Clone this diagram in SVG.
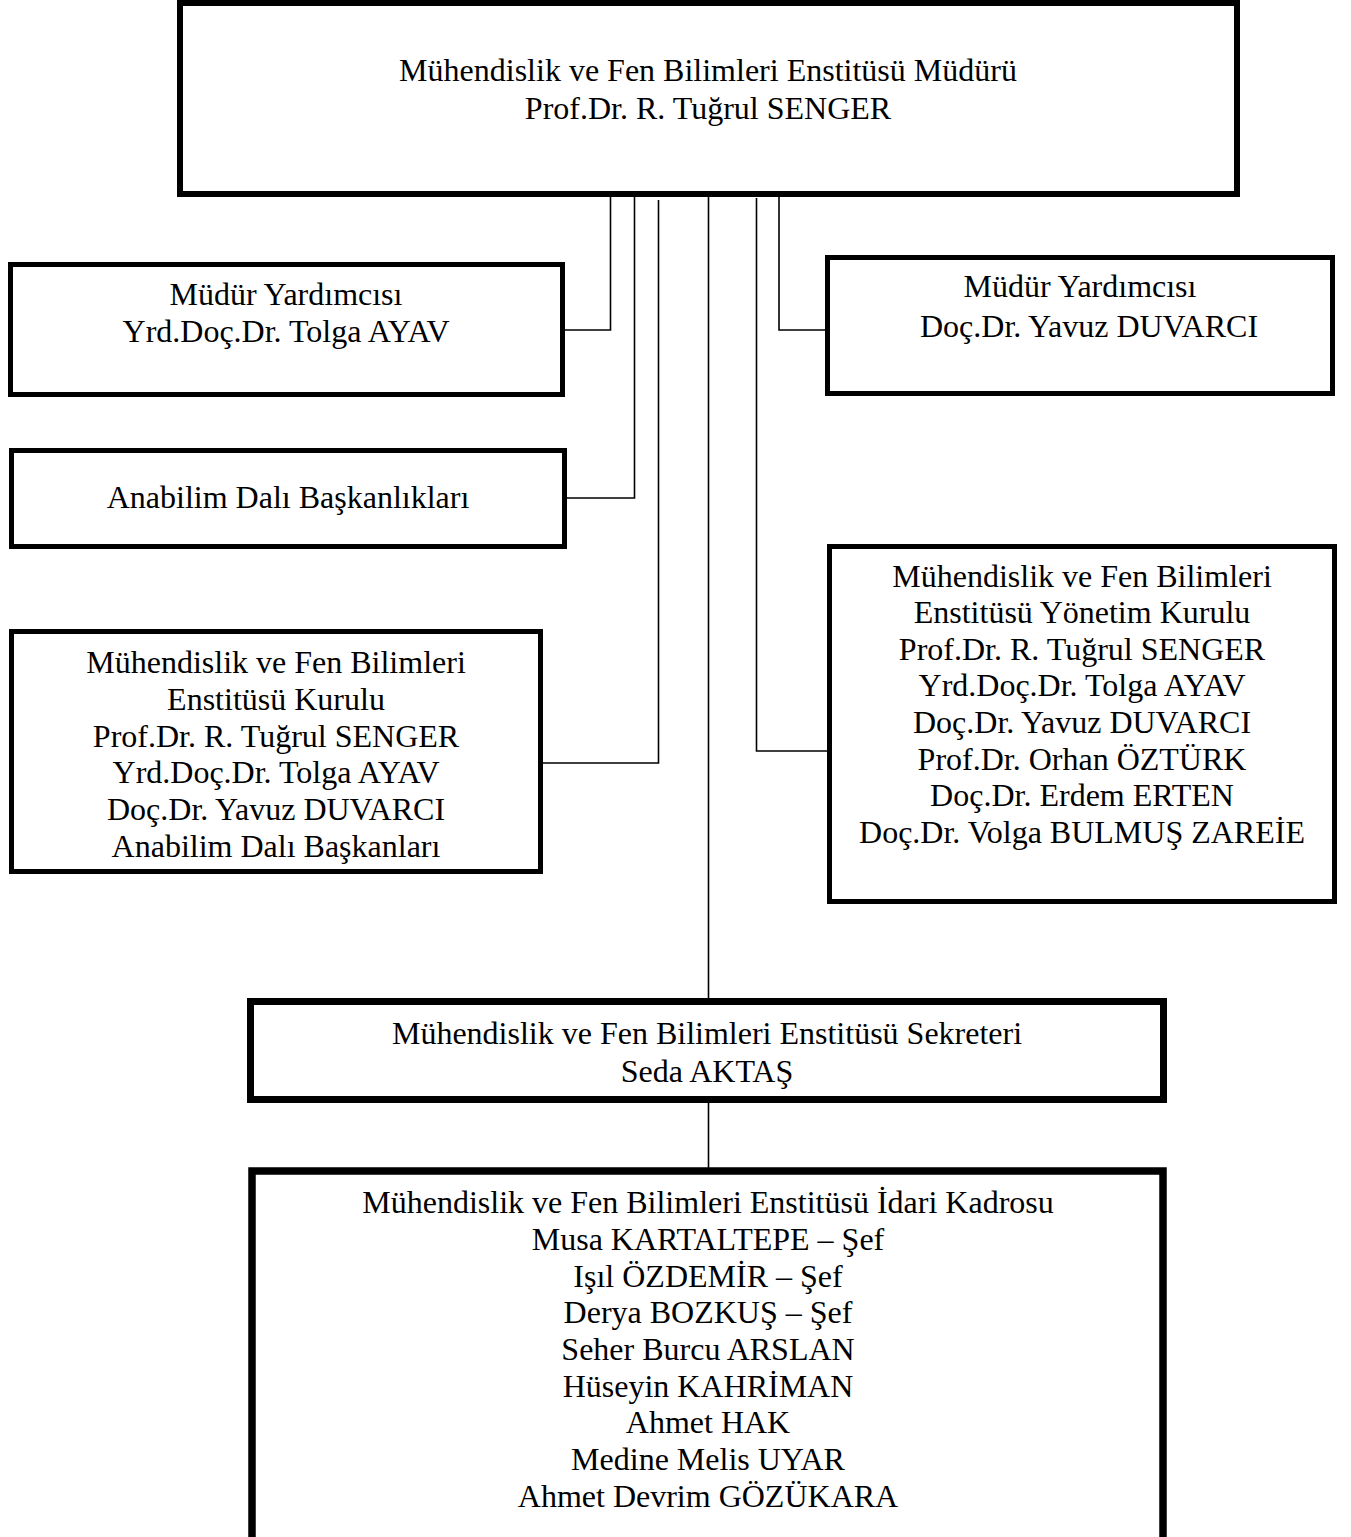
<svg xmlns="http://www.w3.org/2000/svg" width="1351" height="1537" viewBox="0 0 1351 1537">
<style>
.box{fill:#fff;stroke:#000}
.t{font-family:"Liberation Serif","Times New Roman",serif;font-size:32px;fill:#000;text-anchor:middle}
.c{fill:none;stroke:#000;stroke-width:1.6}
</style>
<rect width="1351" height="1537" fill="#fff"/>
<g id="connectors">
<path class="c" d="M610.5 196 V330 H565"/>
<path class="c" d="M634.5 196 V498 H567"/>
<path class="c" d="M658.5 200 V763 H543"/>
<path class="c" d="M708.5 196 V998"/>
<path class="c" d="M708.5 1103 V1168"/>
<path class="c" d="M756.5 198 V751 H827"/>
<path class="c" d="M779 196 V330 H825"/>
</g>
<g id="director">
<rect class="box" x="180" y="3" width="1057" height="191" stroke-width="6"/>
<text class="t" x="708" y="81">Mühendislik ve Fen Bilimleri Enstitüsü Müdürü</text>
<text class="t" x="708" y="119">Prof.Dr. R. Tuğrul SENGER</text>
</g>
<g id="deputy-left">
<rect class="box" x="10.5" y="264.5" width="552" height="130" stroke-width="5"/>
<text class="t" x="286" y="305">Müdür Yardımcısı</text>
<text class="t" x="286" y="342">Yrd.Doç.Dr. Tolga AYAV</text>
</g>
<g id="department-heads">
<rect class="box" x="11.5" y="450.5" width="553" height="96" stroke-width="5"/>
<text class="t" x="288" y="508">Anabilim Dalı Başkanlıkları</text>
</g>
<g id="institute-board">
<rect class="box" x="11.5" y="631.5" width="529" height="240" stroke-width="5"/>
<text class="t" x="276" y="673">Mühendislik ve Fen Bilimleri</text>
<text class="t" x="276" y="710">Enstitüsü Kurulu</text>
<text class="t" x="276" y="747">Prof.Dr. R. Tuğrul SENGER</text>
<text class="t" x="276" y="783">Yrd.Doç.Dr. Tolga AYAV</text>
<text class="t" x="276" y="820">Doç.Dr. Yavuz DUVARCI</text>
<text class="t" x="276" y="857">Anabilim Dalı Başkanları</text>
</g>
<g id="deputy-right">
<rect class="box" x="827.5" y="257.5" width="505" height="136" stroke-width="5"/>
<text class="t" x="1080" y="297">Müdür Yardımcısı</text>
<text class="t" x="1089" y="337">Doç.Dr. Yavuz DUVARCI</text>
</g>
<g id="executive-board">
<rect class="box" x="829.5" y="546.5" width="505" height="355" stroke-width="5"/>
<text class="t" x="1082" y="587">Mühendislik ve Fen Bilimleri</text>
<text class="t" x="1082" y="623">Enstitüsü Yönetim Kurulu</text>
<text class="t" x="1082" y="660">Prof.Dr. R. Tuğrul SENGER</text>
<text class="t" x="1082" y="696">Yrd.Doç.Dr. Tolga AYAV</text>
<text class="t" x="1082" y="733">Doç.Dr. Yavuz DUVARCI</text>
<text class="t" x="1082" y="770">Prof.Dr. Orhan ÖZTÜRK</text>
<text class="t" x="1082" y="806">Doç.Dr. Erdem ERTEN</text>
<text class="t" x="1082" y="843">Doç.Dr. Volga BULMUŞ ZAREİE</text>
</g>
<g id="secretary">
<rect class="box" x="250.5" y="1001.5" width="913" height="98" stroke-width="7"/>
<text class="t" x="707" y="1044">Mühendislik ve Fen Bilimleri Enstitüsü Sekreteri</text>
<text class="t" x="707" y="1082">Seda AKTAŞ</text>
</g>
<g id="staff">
<rect class="box" x="252" y="1171" width="911" height="400" stroke-width="7.5"/>
<text class="t" x="708" y="1213">Mühendislik ve Fen Bilimleri Enstitüsü İdari Kadrosu</text>
<text class="t" x="708" y="1250">Musa KARTALTEPE – Şef</text>
<text class="t" x="708" y="1287">Işıl ÖZDEMİR – Şef</text>
<text class="t" x="708" y="1323">Derya BOZKUŞ – Şef</text>
<text class="t" x="708" y="1360">Seher Burcu ARSLAN</text>
<text class="t" x="708" y="1397">Hüseyin KAHRİMAN</text>
<text class="t" x="708" y="1433">Ahmet HAK</text>
<text class="t" x="708" y="1470">Medine Melis UYAR</text>
<text class="t" x="708" y="1507">Ahmet Devrim GÖZÜKARA</text>
</g>
</svg>
